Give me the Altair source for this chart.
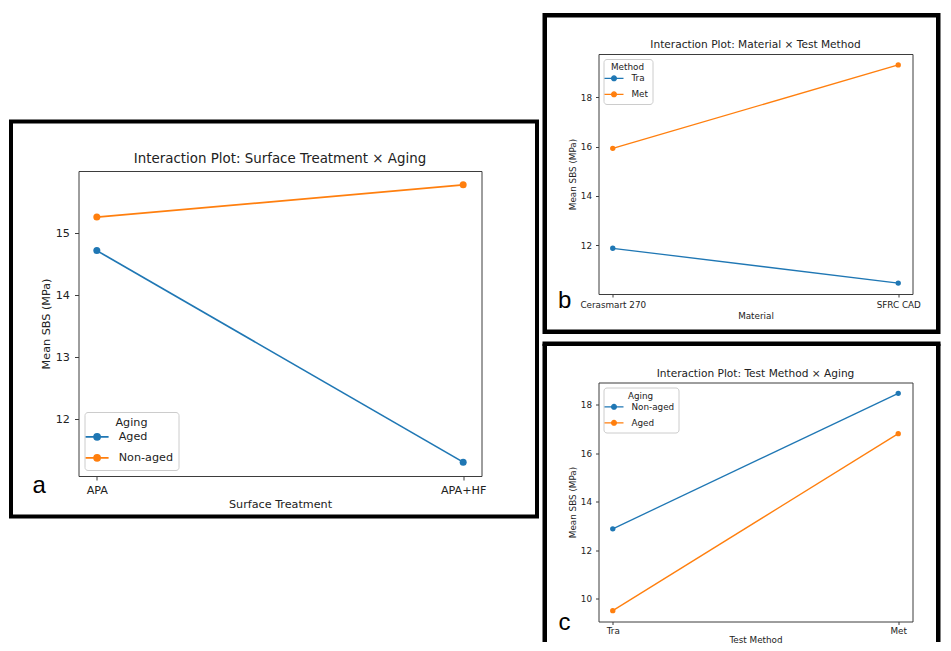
import altair as alt
import pandas as pd

# ---------------- data ----------------
# Panel a: Surface Treatment x Aging
treat = ["APA", "APA+HF"]
aging_a = ["Aged", "Non-aged"]
a_aged = [14.72, 11.31]
a_nonaged = [15.26, 15.78]
a_ticks = [12, 13, 14, 15]

# Panel b: Material x Test Method
material = ["Cerasmart 270", "SFRC CAD"]
method_b = ["Tra", "Met"]
b_tra = [11.88, 10.47]
b_met = [15.93, 19.31]
b_ticks = [12, 14, 16, 18]

# Panel c: Test Method x Aging
method = ["Tra", "Met"]
aging_c = ["Non-aged", "Aged"]
c_nonaged = [12.89, 18.47]
c_aged = [9.52, 16.81]
c_ticks = [10, 12, 14, 16, 18]

BLUE, ORANGE = "#1f77b4", "#ff7f0e"
FONT = "DejaVu Sans"
LFONT = "Liberation Sans"
TXT = "#222222"
SPINE = "#3d3d3d"


def mpl_domain(*series):
    vals = [v for s in series for v in s]
    lo, hi = min(vals), max(vals)
    m = 0.05 * (hi - lo)
    return [lo - m, hi + m]


def sym_path(half, r):
    return (f"M{-half},0L{half},0M{r},0A{r},{r},0,1,1,{-r},0A{r},{r},0,1,1,{r},0Z")


def panel(key, cats, groups, series, ticks, xtitle, ytitle, ltitle, title, letter, g, border, orient):
    rows = []
    for name, vals in zip(groups, series):
        for c, v in zip(cats, vals):
            rows.append({"cat": c, key: name, "v": v})
    df = pd.DataFrame(rows)
    w, h, fs = g["w"], g["h"], g["fs"]

    x = alt.X("cat:N", sort=cats,
              scale=alt.Scale(type="point", padding=0.05, domain=cats),
              axis=alt.Axis(title=xtitle, labelAngle=0, domain=False, grid=False,
                            tickSize=g["tick"], tickColor=SPINE, tickWidth=1,
                            labelFont=FONT, labelFontSize=fs, labelColor=TXT,
                            labelPadding=g["xlp"], titleFont=FONT, titleFontSize=fs,
                            titleFontWeight="normal", titleColor=TXT, titlePadding=g["xtp"]))
    y = alt.Y("v:Q",
              scale=alt.Scale(domain=mpl_domain(*series), nice=False, zero=False),
              axis=alt.Axis(title=ytitle, values=ticks, format="d", domain=False, grid=False,
                            tickSize=g["tick"], tickColor=SPINE, tickWidth=1,
                            labelFont=FONT, labelFontSize=fs, labelColor=TXT,
                            labelPadding=g["ylp"], titleFont=FONT, titleFontSize=fs,
                            titleFontWeight="normal", titleColor=TXT, titlePadding=g["ytp"]))
    leg = alt.Legend(
        title=ltitle, orient=orient, offset=g["loff"], padding=g["lpad"],
        fillColor="white", strokeColor="#cccccc", cornerRadius=3,
        titleFont=FONT, titleFontSize=fs, titleFontWeight="normal", titleColor=TXT,
        titleAnchor="middle", titleAlign="center", titlePadding=g["ltp"],
        labelFont=FONT, labelFontSize=fs, labelColor=TXT, labelOffset=g["lloff"],
        symbolType=sym_path(g["shalf"], g["sr"]), symbolSize=g["ssize"],
        symbolStrokeWidth=g["lw"], symbolOffset=g["soff"], rowPadding=g["lrp"],
    )
    color = alt.Color(f"{key}:N", sort=groups,
                      scale=alt.Scale(domain=groups, range=[BLUE, ORANGE]), legend=leg)

    base = alt.Chart(df)
    lines = base.mark_line(strokeWidth=g["lw"]).encode(x=x, y=y, color=color)
    pts = base.mark_point(filled=True, size=g["ms"], opacity=1).encode(x=x, y=y, color=color)

    one = pd.DataFrame({"t": [0]})
    layers = []
    bx1, bx2, by1, by2, bw = border
    if by2 is not None:
        layers.append(alt.Chart(one).mark_rect(filled=False, stroke="black", strokeWidth=bw)
                      .encode(x=alt.value(bx1), x2=alt.value(bx2), y=alt.value(by1), y2=alt.value(by2)))
    else:
        bottom = g["bottom"]
        layers.append(alt.Chart(one).mark_rule(stroke="black", strokeWidth=bw, strokeCap="square")
                      .encode(x=alt.value(bx1), x2=alt.value(bx2), y=alt.value(by1)))
        layers.append(alt.Chart(one).mark_rule(stroke="black", strokeWidth=bw)
                      .encode(x=alt.value(bx1), y=alt.value(by1), y2=alt.value(bottom)))
        layers.append(alt.Chart(one).mark_rule(stroke="black", strokeWidth=bw)
                      .encode(x=alt.value(bx2), y=alt.value(by1), y2=alt.value(bottom)))
    ttl = alt.Chart(one).mark_text(text=title, font=FONT, fontSize=g["tfs"], color=TXT,
                                   align="center", baseline="alphabetic").encode(
        x=alt.value(w / 2), y=alt.value(g["ty"]))
    let = alt.Chart(one).mark_text(text=letter, font=LFONT, fontSize=24, color="black",
                                   align="left", baseline="alphabetic").encode(
        x=alt.value(g["lx"]), y=alt.value(g["ly"]))
    return alt.layer(*layers, lines, pts, ttl, let).properties(width=w, height=h)


ga = dict(w=403, h=305, fs=11.2, tfs=13.4, tick=4, xlp=4, xtp=3, ylp=5, ytp=4,
          lw=1.7, ms=49, loff=6, lpad=5, ltp=3, lloff=16, lrp=7, shalf=2.875, sr=0.76,
          ssize=64, soff=2, ty=-8.4, lx=-46, ly=322)
gb = dict(w=314, h=240, fs=8.8, tfs=10.6, tick=3, xlp=3, xtp=3, ylp=4, ytp=3,
          lw=1.3, ms=29, loff=5, lpad=4, ltp=2, lloff=13, lrp=5, shalf=2.714, sr=0.686,
          ssize=49, soff=2, ty=-6, lx=-40.5, ly=253.5)
gc = dict(gb, h=239, xlp=2, xtp=0, ty=-5.5, lx=-40, ly=247.5, bottom=259.5)

pa = panel("Aging", treat, aging_a, [a_aged, a_nonaged], a_ticks, "Surface Treatment",
           "Mean SBS (MPa)", "Aging", "Interaction Plot: Surface Treatment \u00d7 Aging", "a",
           ga, (-67.5, 458.5, -49.5, 345.5, 4), "bottom-left")
pb = panel("Method", material, method_b, [b_tra, b_met], b_ticks, "Material",
           "Mean SBS (MPa)", "Method", "Interaction Plot: Material \u00d7 Test Method", "b",
           gb, (-53.75, 339.75, -38.75, 277.75, 4.5), "top-left")
pc = panel("AgingC", method, aging_c, [c_nonaged, c_aged], c_ticks, "Test Method",
           "Mean SBS (MPa)", "Aging", "Interaction Plot: Test Method \u00d7 Aging", "c",
           gc, (-53.75, 339.75, -38.75, None, 4.5), "top-left")

spacer = (alt.Chart(pd.DataFrame({"t": [0]})).mark_rect(opacity=0)
          .encode(x=alt.value(0), x2=alt.value(1), y=alt.value(0), y2=alt.value(65))
          .properties(width=1, height=65,
                      view=alt.ViewBackground(stroke="transparent", strokeWidth=0)))

res = dict(x="independent", y="independent", color="independent")
left = alt.vconcat(spacer, pa, spacing=0).resolve_scale(**res)
right = alt.vconcat(pb, pc, spacing=4.5).resolve_scale(**res)
chart = (alt.hconcat(left, right, spacing=1).resolve_scale(**res)
         .properties(padding={"left": 0.5, "top": 4, "right": 0, "bottom": 0},
                     background="white")
         .configure_view(stroke=SPINE, strokeWidth=1))

chart.save("out.html", embed_options={"renderer": "svg", "actions": False})
